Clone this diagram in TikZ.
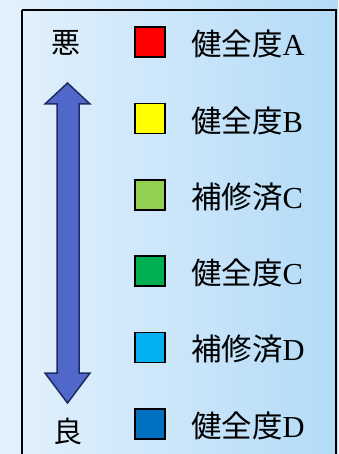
\documentclass[tikz,border=0pt]{standalone}
\usepackage{fontspec}
\setmainfont{Liberation Serif}
\newfontfamily\cjk{Noto Sans CJK JP}
\definecolor{bgL}{HTML}{E4F1FC}
\definecolor{bgR}{HTML}{B3DBF7}
\definecolor{arrowfill}{HTML}{4F68C9}
\definecolor{arrowdraw}{HTML}{1F2B62}
\definecolor{cA}{HTML}{FF0000}
\definecolor{cB}{HTML}{FFFF00}
\definecolor{cRC}{HTML}{92D050}
\definecolor{cC}{HTML}{00B050}
\definecolor{cRD}{HTML}{00B0F0}
\definecolor{cD}{HTML}{0070C0}
\tikzset{
  swatch/.style={draw=black, line width=1.6pt, minimum size=30pt, inner sep=0pt},
  label/.style={anchor=west, inner sep=0pt, font=\fontsize{30.5}{32}\selectfont},
  side/.style={inner sep=0pt, font=\fontsize{29}{30}\selectfont\cjk},
}
\begin{document}
\begin{tikzpicture}[x=1pt,y=-1pt]
\useasboundingbox (0,0) rectangle (338,454);
\shade[left color=bgL, right color=bgR] (0,0) rectangle (338,454);
\draw[line width=2pt] (22,10) -- (22,460) (22,10) -- (336,10) -- (336,460);
\node[side] (bad) at (66,43) {悪};
\node[side] (good) at (68,431) {良};
\draw[fill=arrowfill, draw=arrowdraw, line width=1.5pt, line join=miter]
  (67.5,83) -- (90,104) -- (79,104) -- (79,373) -- (90,373) -- (67.5,403)
  -- (45,373) -- (57,373) -- (57,104) -- (45,104) -- cycle;
\foreach \i/\c in {0/cA, 1/cB, 2/cRC, 3/cC, 4/cRD, 5/cD} {
  \node[swatch, fill=\c] (s\i) at (150,42+76.4*\i) {};
}
\node[label] (tA) at (191,44) {{\cjk 健全度}A};
\node[label] (tB) at (191,121) {{\cjk 健全度}B};
\node[label] (tRC) at (191,197) {{\cjk 補修済}C};
\node[label] (tC) at (191,273) {{\cjk 健全度}C};
\node[label] (tRD) at (191,349) {{\cjk 補修済}D};
\node[label] (tD) at (191,426) {{\cjk 健全度}D};
\end{tikzpicture}
\end{document}
